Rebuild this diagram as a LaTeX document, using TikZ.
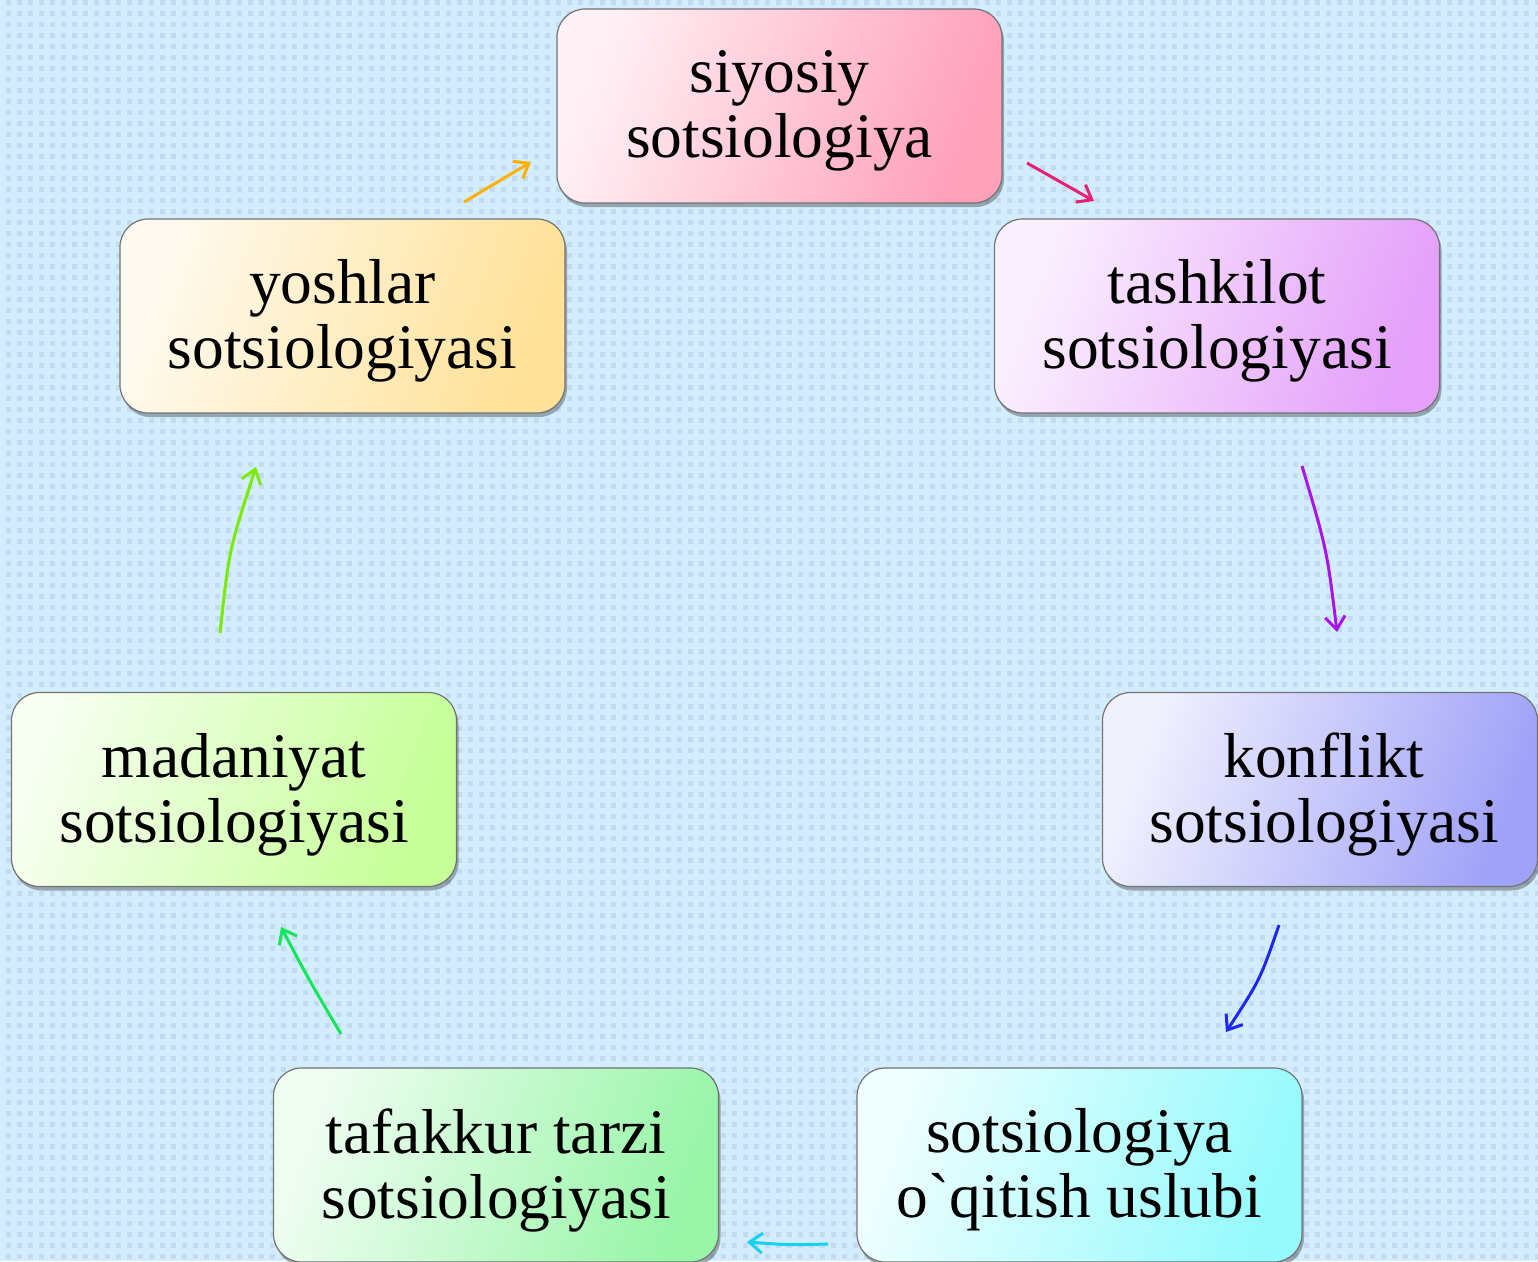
\documentclass[tikz,border=0pt]{standalone}
\usepackage{fontspec}
\setmainfont{Liberation Serif}[Ligatures=TeXOff]
\usetikzlibrary{arrows.meta,shadows}
\definecolor{bg}{RGB}{210,237,253}
\definecolor{sq}{RGB}{196,218,238}
\definecolor{pinkC}{RGB}{255,160,187}
\definecolor{violetC}{RGB}{228,160,250}
\definecolor{blueC}{RGB}{160,162,248}
\definecolor{cyanC}{RGB}{150,250,252}
\definecolor{greenC}{RGB}{152,245,168}
\definecolor{limeC}{RGB}{198,255,152}
\definecolor{yellowC}{RGB}{255,225,152}
\definecolor{orangeA}{RGB}{255,176,0}
\definecolor{pinkA}{RGB}{232,32,122}
\definecolor{purpleA}{RGB}{170,20,230}
\definecolor{blueA}{RGB}{30,40,240}
\definecolor{cyanA}{RGB}{20,210,240}
\definecolor{greenA}{RGB}{20,230,90}
\definecolor{limeA}{RGB}{120,235,0}
\tikzset{
  dotrow/.style={draw=sq, line width=5pt, dash pattern=on 5pt off 6pt},
  cbox/.style={rectangle, rounded corners=28pt, draw=black!55, line width=1.2pt,
    minimum width=445pt, minimum height=194pt, inner sep=0pt,
    drop shadow={shadow xshift=2pt, shadow yshift=-4pt, opacity=0.3, fill=black}},
  shadeC/.style={left color=white!85!#1, right color=#1, shading angle=70},
  lbl/.style={align=center, inner sep=0pt, font=\fontsize{63.5}{65}\selectfont},
  arr/.style={line width=3pt, -{Straight Barb[length=13pt,width=20pt]}}
}
\begin{document}
\begin{tikzpicture}[x=1pt,y=-1pt]
\useasboundingbox (0,0) rectangle (1538,1261);
\clip (0,0) rectangle (1538,1261);
\fill[bg] (0,0) rectangle (1538,1261);
\foreach \j in {0,...,114} \draw[dotrow] (6,{11*\j+2.5}) -- (1538,{11*\j+2.5});

% boxes
\node[cbox, shadeC=pinkC] (n1) at (779.5,106) {};
\node[cbox, shadeC=violetC] (n2) at (1217,316) {};
\node[cbox, shadeC=blueC, minimum width=435pt] (n3) at (1320,789.5) {};
\node[cbox, shadeC=cyanC] (n4) at (1079.5,1165) {};
\node[cbox, shadeC=greenC] (n5) at (496,1165) {};
\node[cbox, shadeC=limeC] (n6) at (234,789.5) {};
\node[cbox, shadeC=yellowC] (n7) at (342.5,316) {};

% labels
\node[lbl] (t1) at ([yshift=-5pt]n1.center) {siyosiy\\sotsiologiya};
\node[lbl] (t2) at ([yshift=-5pt]n2.center) {tashkilot\\sotsiologiyasi};
\node[lbl] (t3) at ([xshift=4pt,yshift=-5pt]n3.center) {konflikt\\sotsiologiyasi};
\node[lbl] (t4) at ([yshift=-5pt]n4.center) {sotsiologiya\\o`qitish uslubi};
\node[lbl] (t5) at ([yshift=-5pt]n5.center) {tafakkur tarzi\\sotsiologiyasi};
\node[lbl] (t6) at ([yshift=-5pt]n6.center) {madaniyat\\sotsiologiyasi};
\node[lbl] (t7) at ([yshift=-5pt]n7.center) {yoshlar\\sotsiologiyasi};

% arrow end points
\coordinate (a1s) at (464,202);  \coordinate (a1e) at (531,162);
\coordinate (a2s) at (1027,163); \coordinate (a2e) at (1094,201);
\coordinate (a3s) at (1302,466); \coordinate (a3e) at (1337,632);
\coordinate (a4s) at (1279,925); \coordinate (a4e) at (1226,1032);
\coordinate (a5s) at (828,1244); \coordinate (a5e) at (747,1242);
\coordinate (a6s) at (341,1034); \coordinate (a6e) at (281,927);
\coordinate (a7s) at (220,633);  \coordinate (a7e) at (256,467);

\draw[arr, orangeA] (a1s) -- (a1e);
\draw[arr, pinkA] (a2s) -- (a2e);
\draw[arr, purpleA] (a3s) .. controls (1327,550) .. (a3e);
\draw[arr, blueA] (a4s) .. controls (1260,980) .. (a4e);
\draw[arr, cyanA] (a5s) .. controls (788,1245) .. (a5e);
\draw[arr, greenA] (a6s) .. controls (309,980) .. (a6e);
\draw[arr, limeA] (a7s) .. controls (229,550) .. (a7e);
\end{tikzpicture}
\end{document}
